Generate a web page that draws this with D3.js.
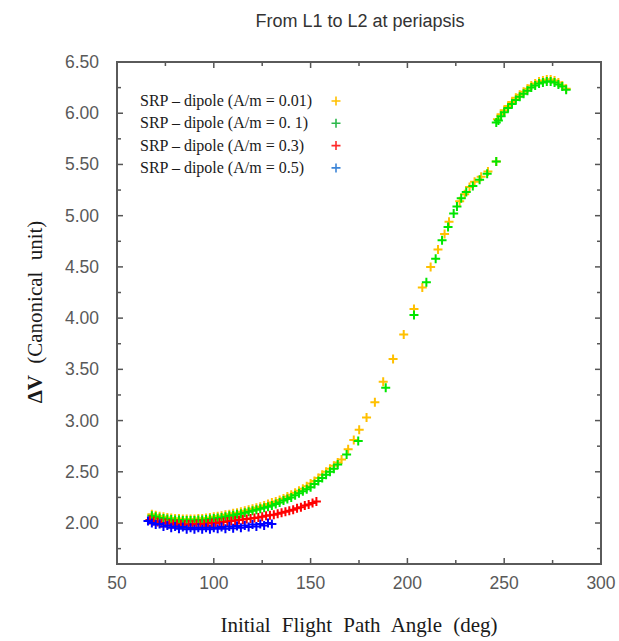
<!DOCTYPE html>
<html>
<head>
<meta charset="utf-8">
<script src="https://cdn.jsdelivr.net/npm/d3@7"></script>
<style>
  body { margin: 0; background: #fff; }
  svg { display: block; }
</style>
</head>
<body>
<div id="chart"></div>
<script>
// Tick values
const xTicks = [50, 100, 150, 200, 250, 300];
const yTicks = [2.0, 2.5, 3.0, 3.5, 4.0, 4.5, 5.0, 5.5, 6.0, 6.5];

// Legend labels
const seriesLabels = [
  "SRP \u2013 dipole (A/m = 0.01)",
  "SRP \u2013 dipole (A/m = 0. 1)",
  "SRP \u2013 dipole (A/m = 0.3)",
  "SRP \u2013 dipole (A/m = 0.5)"
];

// A/m = 0.01
const am001X = [68, 70, 72, 74, 76, 78, 80, 82, 84, 86, 88, 90, 92, 94, 96, 98, 100, 102, 104, 106,
  108, 110, 112, 114, 116, 118, 120, 122, 124, 126, 128, 130, 132, 134, 136, 138, 140, 142, 144, 146,
  148, 150, 152, 154, 156, 158, 160, 162, 164, 166,
  169.4, 172.3, 175.1, 178.9, 183.2, 187.5, 192.6, 198.1, 203.4, 207.7, 212.0, 215.8, 219.2, 221.5,
  227.0, 229.6, 232.1, 234.7, 238.1, 241.6, 245.9,
  246.5, 248.4, 250, 252, 254, 256, 258, 260, 262, 264, 266, 268, 270, 272, 274, 276, 278, 280, 282];
const am001Y = [2.085, 2.075, 2.065, 2.06, 2.055, 2.05, 2.045, 2.045, 2.04, 2.04, 2.04, 2.04, 2.045, 2.045, 2.05, 2.055, 2.06, 2.065, 2.07, 2.08,
  2.085, 2.095, 2.10, 2.11, 2.12, 2.13, 2.14, 2.15, 2.16, 2.17, 2.185, 2.20, 2.21, 2.225, 2.24, 2.26, 2.275, 2.295, 2.315, 2.335,
  2.36, 2.385, 2.41, 2.44, 2.47, 2.50, 2.53, 2.56, 2.59, 2.62,
  2.72, 2.81, 2.91, 3.03, 3.18, 3.38, 3.60, 3.84, 4.09, 4.30, 4.50, 4.67, 4.82, 4.94,
  5.14, 5.21, 5.28, 5.33, 5.38, 5.43, 5.53,
  5.94, 5.99, 6.03, 6.07, 6.11, 6.15, 6.18, 6.21, 6.24, 6.27, 6.29, 6.31, 6.32, 6.33, 6.33, 6.32, 6.30, 6.27, 6.24];

// A/m = 0.1
const am01X = [68, 70, 72, 74, 76, 78, 80, 82, 84, 86, 88, 90, 92, 94, 96, 98, 100, 102, 104, 106,
  108, 110, 112, 114, 116, 118, 120, 122, 124, 126, 128, 130, 132, 134, 136, 138, 140, 142, 144, 146,
  148, 150, 152, 154, 156, 158, 160, 162, 164,
  168.6, 174.6, 188.8, 203.4, 209.8, 214.6, 217.9, 221.0, 223.9, 225.6, 227.8, 230.4, 233.8, 237.3, 241.2, 245.9,
  245.9, 247, 248.4, 250, 252, 254, 256, 258, 260, 262, 264, 266, 268, 270, 272, 274, 276, 278, 280, 282];
const am01Y = [2.07, 2.06, 2.05, 2.045, 2.04, 2.035, 2.03, 2.03, 2.025, 2.025, 2.025, 2.025, 2.03, 2.03, 2.035, 2.04, 2.045, 2.05, 2.055, 2.06,
  2.07, 2.075, 2.085, 2.09, 2.10, 2.11, 2.12, 2.13, 2.14, 2.15, 2.16, 2.17, 2.185, 2.20, 2.22, 2.235, 2.25, 2.27, 2.29, 2.31,
  2.33, 2.35, 2.38, 2.41, 2.44, 2.47, 2.50, 2.53, 2.57,
  2.67, 2.80, 3.32, 4.03, 4.35, 4.58, 4.76, 4.89, 5.02, 5.09, 5.17, 5.23, 5.29, 5.35, 5.41, 5.53,
  5.91, 5.93, 5.97, 6.01, 6.05, 6.09, 6.13, 6.16, 6.19, 6.22, 6.25, 6.27, 6.29, 6.30, 6.31, 6.31, 6.30, 6.28, 6.26, 6.23];

// A/m = 0.3
const am03X = [67, 69, 71, 73, 75, 77, 79, 81, 83, 85, 87, 89, 91, 93, 95, 97, 99, 101, 103, 105,
  107, 109, 111, 113, 115, 117, 119, 121, 123, 125, 127, 129, 131, 133, 135, 137, 139, 141, 143, 145,
  147, 149, 151, 153];
const am03Y = [2.03, 2.02, 2.01, 2.00, 2.00, 1.995, 1.99, 1.99, 1.985, 1.985, 1.985, 1.985, 1.99, 1.99, 1.99, 1.995, 2.00, 2.00, 2.005, 2.01,
  2.015, 2.02, 2.025, 2.03, 2.035, 2.04, 2.045, 2.05, 2.055, 2.06, 2.07, 2.075, 2.08, 2.09, 2.10, 2.11, 2.12, 2.13, 2.145, 2.155,
  2.17, 2.18, 2.195, 2.21];

// A/m = 0.5
const am05X = [66, 68, 70, 72, 74, 76, 78, 80, 82, 84, 86, 88, 90, 92, 94, 96, 98, 100, 102, 104,
  106, 108, 110, 112, 114, 116, 118, 120, 122, 124, 126, 128, 130];
const am05Y = [2.02, 2.00, 1.985, 1.99, 1.965, 1.975, 1.955, 1.965, 1.945, 1.96, 1.94, 1.955, 1.94, 1.955, 1.94, 1.955, 1.94, 1.955, 1.945, 1.96,
  1.945, 1.965, 1.95, 1.97, 1.955, 1.975, 1.96, 1.985, 1.965, 1.99, 1.975, 2.00, 1.99];

const markColors = ["#ffc000", "#00e600", "#ff0000", "#0000ff"];
const legendColors = ["#ffc000", "#2db84d", "#ff2a2a", "#3d85d8"];

// Build series from the arrays
const series = [
  { xs: am001X, ys: am001Y },
  { xs: am01X, ys: am01Y },
  { xs: am03X, ys: am03Y },
  { xs: am05X, ys: am05Y }
].map((s, i) => ({
  color: markColors[i],
  points: s.xs.map((x, j) => ({ x: x, y: s.ys[j] }))
}));

const width = 619, height = 641;
const plot = { left: 117, right: 601, top: 62, bottom: 564 };

const x = d3.scaleLinear().domain([50, 300]).range([plot.left, plot.right]);
const y = d3.scaleLinear().domain([1.6, 6.5]).range([plot.bottom, plot.top]);

const svg = d3.select("#chart")
  .append("svg")
  .attr("width", width)
  .attr("height", height);

// Title
svg.append("text")
  .attr("x", 360)
  .attr("y", 27)
  .attr("text-anchor", "middle")
  .style("font-family", "'Liberation Sans', Arial, sans-serif")
  .style("font-size", "18px")
  .style("fill", "#333")
  .text("From L1 to L2 at periapsis");

// Inward ticks on all four sides
const xMinor = d3.range(75, 300, 50);
const yMinor = d3.range(1.75, 6.5, 0.5);
const tickG = svg.append("g").attr("stroke", "#555").attr("stroke-width", 1.5);

function vTicks(vals, len) {
  vals.forEach(v => {
    tickG.append("line").attr("x1", x(v)).attr("x2", x(v))
      .attr("y1", plot.bottom).attr("y2", plot.bottom - len);
    tickG.append("line").attr("x1", x(v)).attr("x2", x(v))
      .attr("y1", plot.top).attr("y2", plot.top + len);
  });
}
function hTicks(vals, len) {
  vals.forEach(v => {
    tickG.append("line").attr("y1", y(v)).attr("y2", y(v))
      .attr("x1", plot.left).attr("x2", plot.left + len);
    tickG.append("line").attr("y1", y(v)).attr("y2", y(v))
      .attr("x1", plot.right).attr("x2", plot.right - len);
  });
}
vTicks(xTicks, 6);
vTicks(xMinor, 4);
hTicks(yTicks, 6);
hTicks(yMinor, 4);

// Frame
svg.append("rect")
  .attr("x", plot.left)
  .attr("y", plot.top)
  .attr("width", plot.right - plot.left)
  .attr("height", plot.bottom - plot.top)
  .attr("fill", "none")
  .attr("stroke", "#5a5a5a")
  .attr("stroke-width", 2);

// Tick labels
svg.append("g").selectAll("text")
  .data(xTicks)
  .enter().append("text")
  .attr("x", d => x(d))
  .attr("y", 589)
  .attr("text-anchor", "middle")
  .style("font-family", "'Liberation Sans', Arial, sans-serif")
  .style("font-size", "17.5px")
  .style("fill", "#595959")
  .text(d => d);

svg.append("g").selectAll("text")
  .data(yTicks)
  .enter().append("text")
  .attr("x", 99)
  .attr("y", d => y(d) + 6)
  .attr("text-anchor", "end")
  .style("font-family", "'Liberation Sans', Arial, sans-serif")
  .style("font-size", "17.5px")
  .style("fill", "#595959")
  .text(d => d.toFixed(2));

// Axis titles
svg.append("text")
  .attr("x", 359)
  .attr("y", 632)
  .attr("text-anchor", "middle")
  .style("font-family", "'Liberation Serif', 'Times New Roman', serif")
  .style("font-size", "21px")
  .style("word-spacing", "6px")
  .style("fill", "#1a1a1a")
  .text("Initial Flight Path Angle (deg)");

const yTitle = svg.append("text")
  .attr("transform", "translate(42,312) rotate(-90)")
  .attr("text-anchor", "middle")
  .style("font-family", "'Liberation Serif', 'Times New Roman', serif")
  .style("font-size", "21px")
  .style("word-spacing", "6px")
  .style("fill", "#1a1a1a");
yTitle.append("tspan").style("font-weight", "bold").text("\u0394V");
yTitle.append("tspan").text(" (Canonical unit)");

// Plus markers
const plus = "M-4.5,0H4.5M0,-4.5V4.5";
series.forEach(s => {
  svg.append("g").selectAll("path")
    .data(s.points)
    .enter().append("path")
    .attr("d", plus)
    .attr("transform", d => "translate(" + x(d.x) + "," + y(d.y) + ")")
    .attr("stroke", s.color)
    .attr("stroke-width", 2)
    .attr("fill", "none");
});

// Legend
const legend = svg.append("g");
seriesLabels.forEach((label, i) => {
  const ly = 106 + i * 22.3;
  legend.append("text")
    .attr("x", 140)
    .attr("y", ly)
    .style("font-family", "'Liberation Serif', 'Times New Roman', serif")
    .style("font-size", "16px")
    .style("fill", "#1a1a1a")
    .text(label);
  legend.append("path")
    .attr("d", plus)
    .attr("transform", "translate(336," + (ly - 5) + ")")
    .attr("stroke", legendColors[i])
    .attr("stroke-width", 1.6)
    .attr("fill", "none");
});
</script>
</body>
</html>
